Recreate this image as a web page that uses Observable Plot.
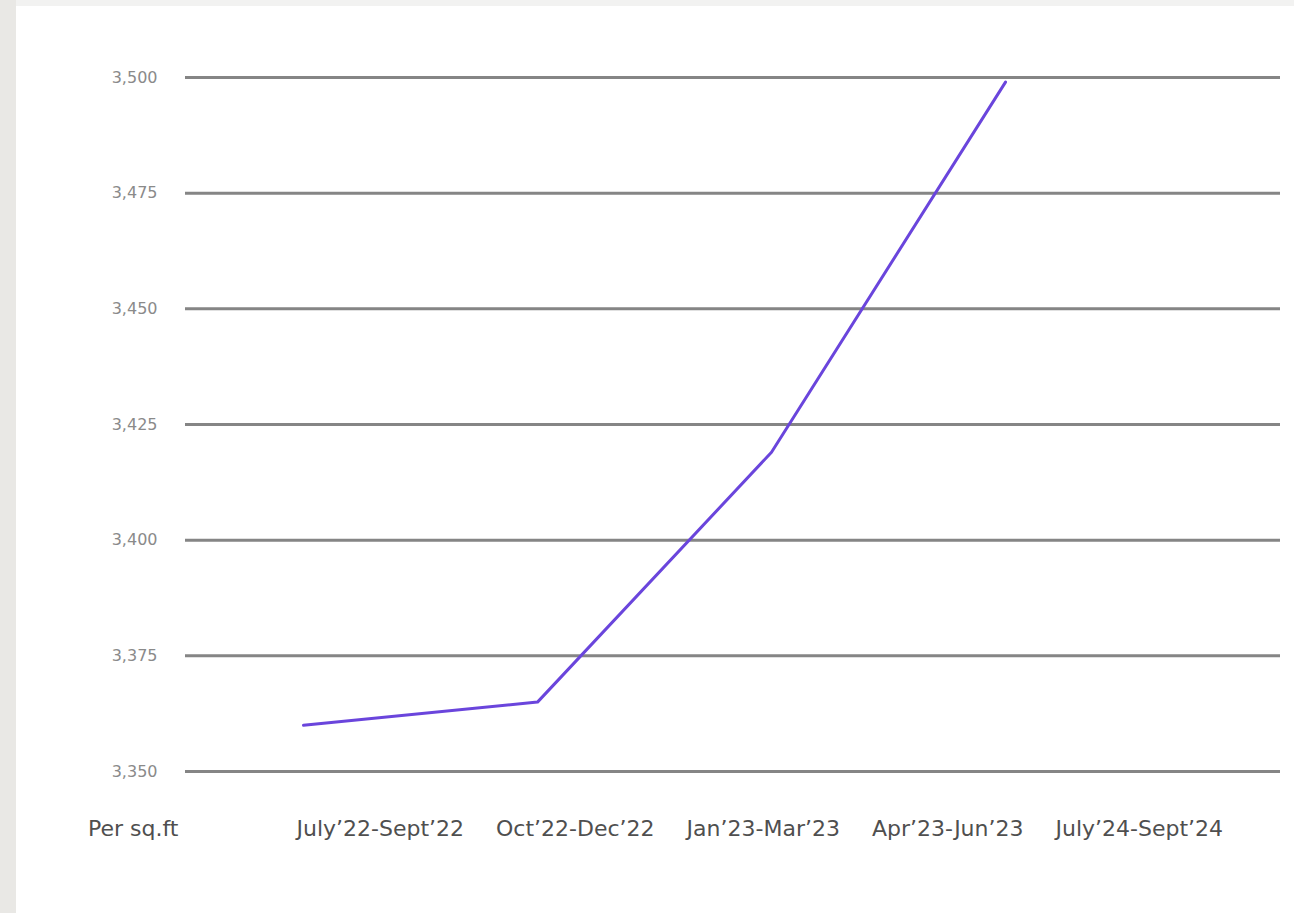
<!DOCTYPE html>
<html>
<head>
<meta charset="utf-8">
<script src="https://cdn.jsdelivr.net/npm/d3@7"></script>
<script src="https://cdn.jsdelivr.net/npm/@observablehq/plot@0.6"></script>
<style>
  html, body { margin: 0; padding: 0; }
  body { width: 1294px; height: 913px; background: #f2f2f1; position: relative; overflow: hidden; font-family: "DejaVu Sans", sans-serif; }
  #strip { position: absolute; left: 0; top: 0; width: 16px; height: 913px; background: #e9e8e5; }
  #panel { position: absolute; left: 16px; top: 6px; width: 1278px; height: 907px; background: #ffffff; }
  #labels { display: flex; align-items: flex-start; margin-top: 12px; padding-left: 72px; white-space: nowrap;
            font-family: "DejaVu Sans", sans-serif; font-size: 22px; line-height: 22px; color: #4f4f4f; }
  #labels span { margin-right: 32px; }
  #labels span.unit { margin-right: 118px; }
</style>
</head>
<body>
<div id="strip"></div>
<div id="panel"></div>
<script>
const unitLabel = "Per sq.ft";
const categories = ["July’22-Sept’22", "Oct’22-Dec’22", "Jan’23-Mar’23", "Apr’23-Jun’23", "July’24-Sept’24"];
const prices = [3360, 3365, 3419, 3499, null];
const yTicks = [3350, 3375, 3400, 3425, 3450, 3475, 3500];

const data = categories.map((c, i) => ({category: c, price: prices[i]}));

const chart = Plot.plot({
  width: 1278,
  height: 800,
  marginLeft: 169,
  marginRight: 14,
  marginTop: 71,
  marginBottom: 35,
  style: {background: "transparent", fontFamily: "DejaVu Sans, sans-serif"},
  x: {type: "point", domain: categories, padding: 0, insetLeft: 118, insetRight: 41, axis: null},
  y: {domain: [3350, 3500], ticks: yTicks, tickFormat: d3.format(","), label: null},
  marks: [
    Plot.ruleY(yTicks, {stroke: "#858585", strokeWidth: 3}),
    Plot.axisY({ticks: yTicks, tickFormat: d3.format(","), tickSize: 0, tickPadding: 28, fontSize: 16, fill: "#8a8a8a", label: null, style: {letterSpacing: "1px"}}),
    Plot.line(data.filter(d => d.price != null), {x: "category", y: "price", stroke: "#6a45dc", strokeWidth: 3})
  ]
});

const panel = document.getElementById("panel");
panel.appendChild(chart);

const row = document.createElement("div");
row.id = "labels";
const u = document.createElement("span");
u.className = "unit";
u.textContent = unitLabel;
row.appendChild(u);
categories.forEach(c => {
  const s = document.createElement("span");
  s.textContent = c;
  row.appendChild(s);
});
panel.appendChild(row);
</script>
</body>
</html>
